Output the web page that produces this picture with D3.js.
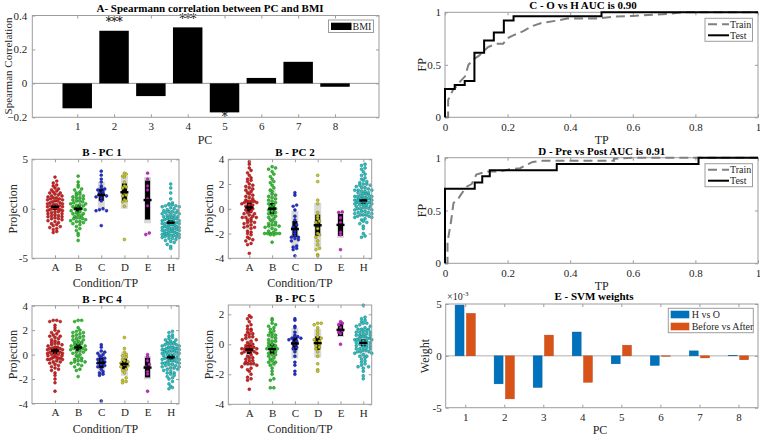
<!DOCTYPE html>
<html><head><meta charset="utf-8">
<script src="https://cdn.jsdelivr.net/npm/d3@7"></script>
<style>body{margin:0;background:#fff} svg text{font-family:"Liberation Serif","Times New Roman",serif}</style>
</head><body><script>
// ---------------- DATA ----------------
const pcLabels = ["1","2","3","4","5","6","7","8"];
const bmiCorr = [-0.147, 0.31, -0.075, 0.33, -0.171, 0.032, 0.127, -0.02];
const bmiStars = ["", "***", "", "***", "*", "", "", ""];

const conditions = ["A","B","C","D","E","H"];
const condColors = ["#d42222","#2fc42f","#2330d0","#c9c92a","#c92ac9","#2ac2c2"];

const pc1A = [3.2,2.8,2.6,2.4,2.3,2.1,2.0,1.9,1.8,1.7,1.6,1.6,1.5,1.4,1.3,1.3,1.2,1.1,1.1,1.0,1.0,0.9,0.9,0.8,0.8,0.7,0.6,0.6,0.5,0.5,0.4,0.4,0.3,0.3,0.2,0.2,0.1,0.1,0.0,0.0,-0.1,-0.1,-0.2,-0.2,-0.3,-0.3,-0.4,-0.5,-0.5,-0.6,-0.7,-0.7,-0.8,-0.8,-0.9,-1.0,-1.0,-1.1,-1.2,-1.3,-1.4,-1.5,-1.6,-1.7,-1.8,-1.9,-2.0,-2.1,-2.3,-2.4];
const pc1B = [3.3,2.7,2.4,2.2,2.0,1.9,1.7,1.6,1.5,1.4,1.3,1.2,1.1,1.1,1.0,0.9,0.8,0.8,0.7,0.6,0.5,0.5,0.4,0.3,0.3,0.2,0.1,0.0,0.0,-0.1,-0.2,-0.3,-0.4,-0.5,-0.5,-0.6,-0.7,-0.8,-0.9,-0.9,-1.0,-1.0,-1.1,-1.2,-1.3,-1.3,-1.4,-1.5,-1.6,-1.8,-2.0,-2.2,-2.5,-2.7,-3.2];
const pc1C = [3.8,3.4,3.0,2.7,2.3,2.1,2.0,1.9,1.7,1.6,1.5,1.4,1.3,1.2,1.1,0.8,0.0,-0.1,-0.2,-0.2,-1.7];
const pc1D = [3.6,3.5,3.3,3.2,2.7,2.3,2.2,2.1,1.6,1.4,1.3,0.9,0.8,0.7,0.25,-3.1];
const pc1E = [3.6,3.0,2.3,1.9,1.0,0.3,-2.45,-2.6];
const pc1H = [2.5,2.1,1.6,1.0,0.6,0.5,0.4,0.4,0.3,0.3,0.2,0.2,0.1,0.0,-0.1,-0.2,-0.2,-0.3,-0.3,-0.4,-0.4,-0.5,-0.5,-0.6,-0.7,-0.7,-0.8,-0.8,-0.9,-0.9,-1.0,-1.0,-1.0,-1.1,-1.2,-1.2,-1.3,-1.3,-1.4,-1.4,-1.5,-1.5,-1.5,-1.6,-1.6,-1.7,-1.7,-1.8,-1.8,-1.8,-1.9,-1.9,-2.0,-2.0,-2.0,-2.1,-2.1,-2.2,-2.2,-2.2,-2.3,-2.3,-2.4,-2.4,-2.5,-2.5,-2.5,-2.6,-2.6,-2.7,-2.7,-2.7,-2.8,-2.8,-2.9,-2.9,-3.0,-3.0,-3.1,-3.2,-3.3,-3.4,-3.6,-3.8,-4.0];

const pc2A = [3.8,3.6,3.3,3.1,2.9,2.7,2.5,2.4,2.3,2.2,2.0,1.9,1.8,1.7,1.6,1.5,1.4,1.3,1.2,1.1,1.0,0.9,0.8,0.7,0.6,0.6,0.6,0.6,0.5,0.5,0.4,0.3,0.3,0.2,0.1,0.0,-0.1,-0.2,-0.3,-0.4,-0.4,-0.5,-0.6,-0.7,-0.7,-0.7,-0.8,-0.9,-1.0,-1.1,-1.1,-1.2,-1.3,-1.4,-1.5,-1.5,-1.6,-1.8,-1.9,-2.0,-2.1,-2.3,-2.4,-2.5,-2.6,-2.8,-2.9,-3.6];
const pc2B = [3.4,3.3,3.2,3.0,2.8,2.6,2.4,2.2,2.1,1.9,1.7,1.5,1.4,1.2,1.1,1.0,0.9,0.8,0.7,0.6,0.5,0.4,0.3,0.2,0.1,0.0,-0.1,-0.2,-0.3,-0.4,-0.5,-0.6,-0.7,-0.8,-0.9,-1.0,-1.1,-1.2,-1.3,-1.3,-1.4,-1.4,-1.5,-1.6,-1.7,-1.8,-1.9,-2.0,-2.0,-2.0,-2.0,-2.0,-2.1,-2.1,-2.7];
const pc2C = [1.3,1.1,0.3,0.2,-0.1,-0.6,-0.9,-1.3,-1.5,-1.8,-2.0,-2.2,-2.3,-2.3,-2.4,-2.5,-2.6,-3.0,-3.1,-3.2,-3.3,-3.8];
const pc2D = [2.7,2.2,0.7,0.4,-0.3,-0.6,-0.8,-1.0,-1.1,-1.3,-1.6,-2.0,-2.1,-2.3,-2.6,-2.9,-3.2,-3.3,-3.7,-3.8];
const pc2E = [-0.25,-0.3,-0.7,-0.75,-1.1,-1.9,-2.1,-3.3];
const pc2H = [3.6,3.5,3.3,3.2,3.0,2.8,2.7,2.5,2.4,2.3,2.2,2.1,2.0,2.0,1.9,1.9,1.8,1.7,1.7,1.6,1.5,1.5,1.5,1.4,1.4,1.3,1.3,1.2,1.2,1.1,1.1,1.0,1.0,1.0,0.9,0.9,0.9,0.8,0.8,0.8,0.8,0.7,0.7,0.7,0.6,0.6,0.6,0.5,0.5,0.5,0.5,0.4,0.4,0.3,0.3,0.3,0.2,0.2,0.1,0.1,0.0,0.0,0.0,-0.1,-0.1,-0.2,-0.2,-0.3,-0.3,-0.4,-0.4,-0.5,-0.5,-0.5,-0.6,-0.6,-0.7,-0.7,-0.8,-0.9,-1.0,-1.1,-1.2,-1.4,-1.6,-2.0,-2.2,-2.3];

const pc4A = [2.8,2.8,2.7,2.7,2.4,2.2,2.0,1.9,1.8,1.7,1.6,1.5,1.5,1.4,1.3,1.2,1.1,1.0,1.0,0.9,0.9,0.8,0.8,0.7,0.6,0.6,0.5,0.5,0.5,0.4,0.4,0.3,0.3,0.3,0.2,0.2,0.1,0.1,0.0,0.0,0.0,-0.1,-0.1,-0.2,-0.2,-0.3,-0.3,-0.3,-0.4,-0.4,-0.4,-0.5,-0.6,-0.6,-0.7,-0.8,-0.9,-1.0,-1.1,-1.2,-1.3,-1.5,-1.7,-2.0,-2.3,-3.0];
const pc4B = [2.8,2.8,2.7,2.2,2.0,1.9,1.8,1.8,1.7,1.6,1.5,1.5,1.4,1.3,1.2,1.2,1.1,1.0,1.0,0.9,0.9,0.8,0.7,0.7,0.6,0.6,0.5,0.5,0.4,0.4,0.3,0.2,0.2,0.1,0.0,-0.1,-0.2,-0.3,-0.4,-0.5,-0.5,-0.6,-0.6,-0.7,-0.8,-0.9,-1.0,-1.2,-1.3,-1.8];
const pc4C = [0.8,0.6,0.3,0.2,0.1,0.0,-0.1,-0.2,-0.3,-0.4,-0.5,-0.6,-0.7,-0.8,-0.9,-1.0,-1.2,-1.4,-1.5,-1.6,-1.7,-3.8];
const pc4D = [1.4,0.5,0.2,0.0,-0.1,-0.2,-0.4,-0.5,-0.6,-0.7,-0.8,-0.9,-1.0,-1.2,-1.3,-1.5,-1.9,-2.1,-2.2,-2.3];
const pc4E = [0.0,-0.2,-0.5,-0.8,-1.0,-1.4,-1.6,-3.0];
const pc4H = [1.9,1.8,1.6,1.5,1.4,1.3,1.2,1.2,1.1,1.0,1.0,0.9,0.9,0.9,0.8,0.8,0.7,0.7,0.6,0.6,0.6,0.5,0.5,0.5,0.4,0.4,0.4,0.3,0.3,0.3,0.2,0.2,0.2,0.1,0.1,0.0,0.0,0.0,-0.1,-0.1,-0.2,-0.2,-0.3,-0.3,-0.3,-0.4,-0.4,-0.5,-0.5,-0.5,-0.6,-0.6,-0.7,-0.7,-0.7,-0.8,-0.8,-0.9,-0.9,-1.0,-1.0,-1.1,-1.1,-1.2,-1.2,-1.3,-1.4,-1.5,-1.5,-1.6,-1.7,-1.8,-1.9,-2.0,-2.2,-2.4,-2.6,-2.7,-2.8];

const pc5A = [1.9,1.8,1.7,1.5,1.3,1.2,1.0,1.0,0.9,0.8,0.7,0.7,0.6,0.5,0.5,0.4,0.3,0.3,0.2,0.1,0.0,0.0,-0.1,-0.2,-0.2,-0.2,-0.3,-0.3,-0.3,-0.4,-0.4,-0.4,-0.5,-0.5,-0.6,-0.6,-0.7,-0.8,-0.9,-0.9,-1.0,-1.1,-1.1,-1.2,-1.3,-1.3,-1.3,-1.3,-1.4,-1.5,-1.6,-1.7,-1.8,-2.0,-2.2,-2.3,-2.4,-3.0];
const pc5B = [1.7,1.6,1.4,1.3,1.2,1.1,1.0,0.9,0.8,0.7,0.6,0.6,0.5,0.4,0.3,0.2,0.2,0.1,0.0,-0.1,-0.1,-0.2,-0.2,-0.3,-0.3,-0.4,-0.5,-0.6,-0.7,-0.7,-0.8,-0.9,-1.0,-1.1,-1.2,-1.2,-1.3,-1.4,-1.6,-1.8,-2.0,-2.3,-2.4,-2.9,-2.9];
const pc5C = [1.7,1.6,1.2,1.1,0.8,0.6,0.5,0.5,0.4,0.4,0.3,0.2,0.1,0.0,-0.2,-0.3,-0.5,-0.8,-1.2,-1.4,-1.8,-2.0];
const pc5D = [1.4,1.4,1.3,1.1,0.9,0.7,0.5,0.4,0.3,0.2,0.1,0.0,-0.1,-0.2,-0.3,-0.5,-0.8,-1.3,-1.7,-1.8];
const pc5E = [1.5,1.4,1.3,1.1,0.9,0.8,0.7,0.0];
const pc5H = [2.6,1.8,1.7,1.6,1.5,1.4,1.4,1.3,1.2,1.2,1.1,1.0,1.0,1.0,0.9,0.9,0.8,0.8,0.8,0.7,0.7,0.6,0.6,0.6,0.5,0.5,0.5,0.4,0.4,0.4,0.3,0.3,0.3,0.2,0.2,0.2,0.1,0.1,0.0,0.0,0.0,-0.1,-0.1,-0.2,-0.2,-0.3,-0.3,-0.3,-0.4,-0.4,-0.5,-0.5,-0.5,-0.6,-0.6,-0.7,-0.8,-0.8,-0.9,-1.0,-1.1,-1.2,-1.3,-1.4,-1.5,-1.5,-1.6,-1.8,-2.1,-2.3];

// ROC curves (FPR, TPR points)
const rocCTrainX = [0,0.01,0.01,0.027,0.03,0.048,0.064,0.075,0.09,0.11,0.138,0.165,0.186,0.197,0.218,0.25,0.28,0.31,0.356,0.39,0.49,0.54,0.6,0.65,0.71,0.76,1];
const rocCTrainY = [0,0,0.165,0.27,0.27,0.34,0.39,0.5,0.55,0.59,0.67,0.7,0.7,0.75,0.78,0.82,0.87,0.9,0.92,0.94,0.94,0.96,0.965,0.975,0.985,1,1];
const rocCTestX = [0,0,0.031,0.031,0.063,0.063,0.094,0.094,0.125,0.125,0.156,0.156,0.188,0.188,0.219,0.219,0.5,0.5,1];
const rocCTestY = [0,0.269,0.269,0.308,0.308,0.346,0.346,0.615,0.615,0.731,0.731,0.808,0.808,0.923,0.923,0.962,0.962,1,1];
const rocDTrainX = [0,0.008,0.008,0.02,0.027,0.043,0.053,0.069,0.085,0.1,0.133,0.175,0.207,0.24,0.266,0.28,0.31,0.41,0.54,0.54,0.6,1];
const rocDTrainY = [0,0,0.2,0.41,0.57,0.615,0.66,0.725,0.75,0.84,0.87,0.87,0.89,0.9,0.94,0.96,0.97,0.97,0.97,0.99,1,1];
const rocDTestX = [0,0,0.095,0.095,0.119,0.119,0.143,0.143,0.357,0.357,0.81,0.81,1];
const rocDTestY = [0,0.706,0.706,0.765,0.765,0.824,0.824,0.882,0.882,0.941,0.941,1,1];

// SVM weights
const svmHvsO = [0.0049,-0.0027,-0.00305,0.0023,-0.00077,-0.00093,0.00048,0.00003];
const svmBeforeAfter = [0.0041,-0.00415,0.0020,-0.00255,0.00103,-0.00005,-0.0002,-0.00038];
const svmSeries = ["H vs O","Before vs After"];
const svmColors = ["#0072BD","#D95319"];

// ---------------- DRAWING ----------------
const FONT = '"Liberation Serif","Times New Roman",serif';
const AX = "#9d9d9d";
const TXT = "#262626";
const svg = d3.select("body").append("svg").attr("width",760).attr("height",436).style("display","block");

function txt(g,x,y,s,o={}){
  const t = g.append("text").attr("x",x).attr("y",y).style("font-family",FONT)
    .attr("font-size",o.size||12).attr("font-weight",o.bold?"bold":"normal")
    .attr("text-anchor",o.anchor||"middle").attr("dominant-baseline","central")
    .attr("fill",o.fill||TXT).text(s);
  if(o.rot) t.attr("transform",`rotate(-90,${x},${y})`);
  return t;
}

function axes(g,o){
  const tl = 3;
  const parts = [];
  parts.push(g.append("g").attr("transform",`translate(0,${o.y1})`).call(
    d3.axisBottom(o.x).tickValues(o.xticks).tickFormat(o.xfmt).tickSizeInner(-tl).tickSizeOuter(0).tickPadding(o.xpad||5)));
  parts.push(g.append("g").attr("transform",`translate(0,${o.y0})`).call(
    d3.axisTop(o.x).tickValues(o.xticks).tickFormat("").tickSizeInner(-tl).tickSizeOuter(0)));
  parts.push(g.append("g").attr("transform",`translate(${o.x0},0)`).call(
    d3.axisLeft(o.y).tickValues(o.yticks).tickFormat(o.yfmt).tickSizeInner(-tl).tickSizeOuter(0).tickPadding(o.ypad||5)));
  parts.push(g.append("g").attr("transform",`translate(${o.x1},0)`).call(
    d3.axisRight(o.y).tickValues(o.yticks).tickFormat("").tickSizeInner(-tl).tickSizeOuter(0)));
  parts.forEach(p=>{
    p.attr("font-family",null);
    p.select(".domain").remove();
    p.selectAll("line").attr("stroke",AX);
    p.selectAll("text").attr("fill",TXT).style("font-family",FONT).attr("font-size",11);
  });
  g.append("rect").attr("x",o.x0).attr("y",o.y0).attr("width",o.x1-o.x0).attr("height",o.y1-o.y0)
    .attr("fill","none").attr("stroke",AX).attr("stroke-width",1);
}

// ---- Panel A ----
(function(){
  const g = svg.append("g");
  const x0=32.3,x1=379,y0=15.5,y1=117.3;
  const x = d3.scaleLinear().domain([-0.22,9.195]).range([x0,x1]);
  const y = d3.scaleLinear().domain([-0.2,0.4]).range([y1,y0]);
  g.append("line").attr("x1",x0).attr("x2",x1).attr("y1",y(0)).attr("y2",y(0)).attr("stroke","#9a9a9a");
  g.selectAll("rect.bar").data(bmiCorr).join("rect").attr("class","bar")
    .attr("x",(d,i)=>x(i+1-0.4)).attr("width",x(0.8)-x(0))
    .attr("y",d=>y(Math.max(d,0))).attr("height",d=>Math.abs(y(d)-y(0)))
    .attr("fill","#000");
  bmiCorr.forEach((d,i)=>{
    if(!bmiStars[i]) return;
    const yy = d>0 ? y(d)-4.5 : y(d)+8.5;
    g.append("text").attr("x",x(i+1)).attr("y",yy).attr("text-anchor","middle")
      .style("font-family",'"DejaVu Serif",serif').attr("font-size",12).attr("fill","#000")
      .attr("letter-spacing",-0.5).text(bmiStars[i]);
  });
  axes(g,{x0,x1,y0,y1,x,y,xticks:d3.range(1,9),xfmt:(d,i)=>pcLabels[i],yticks:[-0.2,0,0.2,0.4],yfmt:d=>d===0?"0":d3.format(".1f")(d),xpad:5,ypad:5});
  txt(g,210,7.5,"A- Spearmann correlation between PC and BMI",{bold:true,size:11,fill:"#000"});
  txt(g,8,66,"Spearman Correlation",{size:11,rot:true});
  txt(g,205,139.5,"PC",{size:12});
  g.append("rect").attr("x",328.5).attr("y",20).attr("width",45).attr("height",12.5).attr("fill","#fff").attr("stroke",AX);
  g.append("rect").attr("x",331).attr("y",22.7).attr("width",20.5).attr("height",7.3).attr("fill","#000");
  txt(g,352.5,26.3,"BMI",{size:10,anchor:"start"});
})();

// ---- Beeswarm panels ----
function tCrit(df){ return 1.96 + 2.5/df + 2.6/(df*df); }
function swarm(vals,y,r,maxHalf){
  const step = 2*r+0.5;
  const pts = vals.map(v=>({v,py:y(v)}));
  const bins = d3.group(pts,p=>Math.floor(p.py/step));
  bins.forEach(arr=>{
    arr.sort((a,b)=>a.v-b.v);
    const n = arr.length;
    const dx = n>1 ? Math.min(2*r+0.6, 2*maxHalf/(n-1)) : 0;
    const slots = d3.range(n).map(i=>(i-(n-1)/2)*dx).sort((a,b)=>Math.abs(b)-Math.abs(a)||a-b);
    arr.forEach((p,i)=>p.dx=slots[i]);
  });
  return pts;
}
function beePanel(p){
  const g = svg.append("g");
  const x = d3.scaleLinear().domain([1,6]).range([p.a,p.h]);
  const y = d3.scaleLinear().domain(p.ydom).range([p.y1,p.y0]);
  const r = 1.45;
  p.groups.forEach((vals,i)=>{
    const cx = x(i+1);
    const m = d3.mean(vals), sd = d3.deviation(vals), n = vals.length;
    const ci = tCrit(n-1)*sd/Math.sqrt(n);
    g.append("rect").attr("x",cx-3.5).attr("width",7).attr("y",y(m+sd)).attr("height",y(m-sd)-y(m+sd)).attr("fill","#d9d9d9");
    g.append("rect").attr("x",cx-2.5).attr("width",5).attr("y",y(m+ci)).attr("height",y(m-ci)-y(m+ci)).attr("fill","#000");
  });
  p.groups.forEach((vals,i)=>{
    const cx = x(i+1);
    const c = condColors[i];
    const pts = swarm(vals,y,r,p.maxHalf[i]);
    g.append("g").selectAll("circle").data(pts).join("circle")
      .attr("cx",d=>cx+d.dx).attr("cy",d=>d.py).attr("r",r)
      .attr("fill",c).attr("stroke",d3.color(c).darker(1.3)).attr("stroke-width",0.5);
  });
  p.groups.forEach((vals,i)=>{
    const cx = x(i+1), m = d3.mean(vals);
    g.append("rect").attr("x",cx-4).attr("width",8).attr("y",y(m)-1.2).attr("height",2.4).attr("fill","#000");
  });
  axes(g,{x0:p.x0,x1:p.x1,y0:p.y0,y1:p.y1,x,y,xticks:d3.range(1,7),xfmt:(d,i)=>conditions[i],yticks:p.yticks,yfmt:d=>String(d),xpad:5,ypad:4});
  txt(g,p.tx,p.y0-7,p.title,{bold:true,size:11,fill:"#000"});
  txt(g,(p.x0+p.x1)/2,p.y1+25,"Condition/TP",{size:12});
  txt(g,p.x0-19,(p.y0+p.y1)/2,"Projection",{size:12,rot:true});
}
const mh = [7.5,7.5,6,6,4,8.5];
beePanel({title:"B - PC 1",tx:102,x0:32,x1:179,y0:159.3,y1:258.3,a:55,h:170.7,ydom:[-5,5],yticks:[-5,0,5],
  groups:[pc1A,pc1B,pc1C,pc1D,pc1E,pc1H],maxHalf:mh});
beePanel({title:"B - PC 2",tx:295,x0:228.3,x1:371.7,y0:159.3,y1:258.3,a:249.3,h:363.3,ydom:[-4,4],yticks:[-4,-2,0,2,4],
  groups:[pc2A,pc2B,pc2C,pc2D,pc2E,pc2H],maxHalf:mh});
beePanel({title:"B - PC 4",tx:102,x0:32,x1:179,y0:305.7,y1:403.5,a:55,h:170.7,ydom:[-4,4],yticks:[-4,-2,0,2,4],
  groups:[pc4A,pc4B,pc4C,pc4D,pc4E,pc4H],maxHalf:mh});
beePanel({title:"B - PC 5",tx:295,x0:228.3,x1:371.7,y0:305,y1:404.3,a:249.3,h:363.3,ydom:[-4,2.62],yticks:[-4,-2,0,2],
  groups:[pc5A,pc5B,pc5C,pc5D,pc5E,pc5H],maxHalf:mh});

// ---- ROC panels ----
function rocPanel(p){
  const g = svg.append("g");
  const x0=445,x1=758;
  const x = d3.scaleLinear().domain([0,1]).range([x0,x1]);
  const y = d3.scaleLinear().domain([0,1]).range([p.y1,p.y0]);
  const line = d3.line().x(d=>x(d[0])).y(d=>y(d[1]));
  axes(g,{x0,x1,y0:p.y0,y1:p.y1,x,y,xticks:[0,0.2,0.4,0.6,0.8,1],xfmt:d=>String(d),yticks:[0,0.5,1],yfmt:d=>String(d),xpad:6,ypad:4});
  g.append("path").datum(d3.zip(p.trX,p.trY)).attr("d",line).attr("fill","none")
    .attr("stroke","#808080").attr("stroke-width",2).attr("stroke-dasharray","9,5");
  g.append("path").datum(d3.zip(p.teX,p.teY)).attr("d",line).attr("fill","none")
    .attr("stroke","#000").attr("stroke-width",2);
  txt(g,p.tx,p.y0-7,p.title,{bold:true,size:11,fill:"#000"});
  txt(g,421.7,(p.y0+p.y1)/2,"FP",{size:12,rot:true});
  txt(g,601.7,p.y1+22.5,"TP",{size:12});
  const lx=705, ly=p.y0+p.ly;
  g.append("rect").attr("x",lx).attr("y",ly).attr("width",47.5).attr("height",23).attr("fill","#fff").attr("stroke",AX);
  g.append("line").attr("x1",lx+3).attr("x2",lx+24).attr("y1",ly+6).attr("y2",ly+6).attr("stroke","#808080").attr("stroke-width",2).attr("stroke-dasharray","9,5");
  g.append("line").attr("x1",lx+3).attr("x2",lx+24).attr("y1",ly+17).attr("y2",ly+17).attr("stroke","#000").attr("stroke-width",2);
  txt(g,lx+25,ly+6,"Train",{size:10,anchor:"start"});
  txt(g,lx+25,ly+17,"Test",{size:10,anchor:"start"});
}
rocPanel({title:"C - O vs H  AUC is 0.90",tx:583,y0:12.3,y1:117.3,ly:6,trX:rocCTrainX,trY:rocCTrainY,teX:rocCTestX,teY:rocCTestY});
rocPanel({title:"D - Pre vs Post AUC is 0.91",tx:601.7,y0:157.7,y1:263.3,ly:6,trX:rocDTrainX,trY:rocDTrainY,teX:rocDTestX,teY:rocDTestY});

// ---- Panel E ----
(function(){
  const g = svg.append("g");
  const x0=445.7,x1=758,y0=304,y1=407.7;
  const x = d3.scaleLinear().domain([0.5,8.5]).range([x0,x1]);
  const y = d3.scaleLinear().domain([-0.005,0.005]).range([y1,y0]);
  g.append("line").attr("x1",x0).attr("x2",x1).attr("y1",y(0)).attr("y2",y(0)).attr("stroke","#b0b0b0");
  [svmHvsO,svmBeforeAfter].forEach((ser,s)=>{
    const off = s===0 ? -0.145 : 0.145;
    g.append("g").selectAll("rect").data(ser).join("rect")
      .attr("x",(d,i)=>x(i+1+off-0.115)).attr("width",x(0.23)-x(0))
      .attr("y",d=>y(Math.max(d,0))).attr("height",d=>Math.abs(y(d)-y(0)))
      .attr("fill",svmColors[s]).attr("stroke",d3.color(svmColors[s]).darker(0.6)).attr("stroke-width",0.4);
  });
  axes(g,{x0,x1,y0,y1,x,y,xticks:d3.range(1,9),xfmt:(d,i)=>pcLabels[i],yticks:[-0.005,0,0.005],yfmt:d=>String(Math.round(d*1000)),xpad:6,ypad:4});
  txt(g,594,296,"E - SVM weights",{bold:true,size:11,fill:"#000"});
  const ex = g.append("text").attr("x",447).attr("y",300).style("font-family",FONT).attr("font-size",10).attr("fill",TXT);
  ex.append("tspan").text("\u00d710");
  ex.append("tspan").attr("font-size",7).attr("dy",-4).text("-3");
  txt(g,425,356,"Weight",{size:12,rot:true});
  txt(g,600,429.5,"PC",{size:12});
  g.append("rect").attr("x",668.3).attr("y",308.3).attr("width",85).attr("height",24.4).attr("fill","#fff").attr("stroke",AX);
  svmSeries.forEach((s,i)=>{
    g.append("rect").attr("x",670.7).attr("y",310.7+i*12).attr("width",18.6).attr("height",7.6).attr("fill",svmColors[i]);
    txt(g,691.7,314.5+i*12,s,{size:10,anchor:"start"});
  });
})();
</script></body></html>
